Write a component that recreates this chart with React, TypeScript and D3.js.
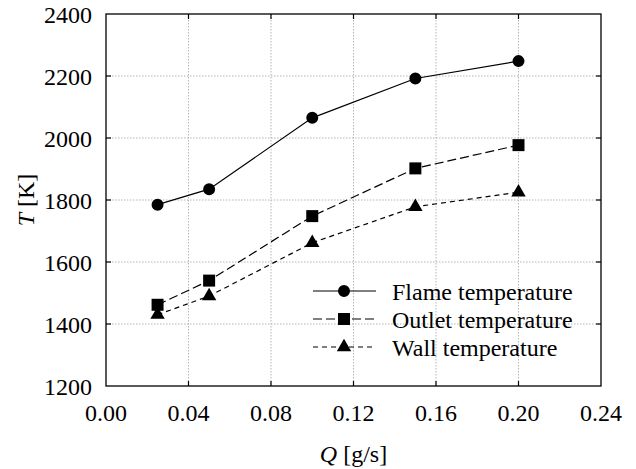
import React from 'react';
import * as d3 from 'd3';

// data
const flowRates = [0.025, 0.05, 0.1, 0.15, 0.2];
const flameTemp = [1785, 1835, 2065, 2192, 2248];
const outletTemp = [1462, 1540, 1748, 1902, 1977];
const wallTemp = [1430, 1490, 1662, 1778, 1825];

const xTicks = [0, 0.04, 0.08, 0.12, 0.16, 0.2, 0.24];
const yTicks = [1200, 1400, 1600, 1800, 2000, 2200, 2400];

const seriesNames = ['Flame temperature', 'Outlet temperature', 'Wall temperature'];

const W = 636, H = 469;
const margin = { top: 14, right: 35, bottom: 83, left: 106 };
const width = W - margin.left - margin.right;
const height = H - margin.top - margin.bottom;
const FONT = 'Times New Roman';
const FS = 24;

const App = () => {
  const x = d3.scaleLinear().domain([0, 0.24]).range([0, width]);
  const y = d3.scaleLinear().domain([1200, 2400]).range([height, 0]);

  const allSeries = [flameTemp, outletTemp, wallTemp];
  const dashes = [undefined, '9,4', '5,4'];
  const symbols = [d3.symbolCircle, d3.symbolSquare, d3.symbolTriangle];
  const sizes = [113, 144, 90];
  const line = d3.line<number>()
    .x((_, i) => x(flowRates[i]))
    .y(d => y(d));

  const innerX = xTicks.slice(1, -1);
  const innerY = yTicks.slice(1, -1);
  const tl = 5;

  // legend placement (pixels in plot coords)
  const lx0 = 313 - margin.left, lx1 = 376 - margin.left, lm = 344 - margin.left;
  const ly = [291, 319, 347].map(v => v - margin.top);

  return (
    <svg width={W} height={H}
      style={{ position: 'absolute', left: 0, top: 0, background: '#fff' }}>
      <g transform={`translate(${margin.left},${margin.top})`}>
        {/* grid */}
        {innerX.map(t => (
          <line key={'vg' + t} x1={x(t)} x2={x(t)} y1={0} y2={height}
            stroke="#b5b5b5" strokeWidth={1} strokeDasharray="1.5,1.5" />
        ))}
        {innerY.map(t => (
          <line key={'hg' + t} x1={0} x2={width} y1={y(t)} y2={y(t)}
            stroke="#b5b5b5" strokeWidth={1} strokeDasharray="1.5,1.5" />
        ))}

        {/* frame + inward ticks */}
        <rect width={width} height={height} fill="none" stroke="#000" strokeWidth={1.3} />
        {innerX.map(t => (
          <g key={'xt' + t} stroke="#000" strokeWidth={1.2}>
            <line x1={x(t)} x2={x(t)} y1={height} y2={height - tl} />
            <line x1={x(t)} x2={x(t)} y1={0} y2={tl} />
          </g>
        ))}
        {innerY.map(t => (
          <g key={'yt' + t} stroke="#000" strokeWidth={1.2}>
            <line x1={0} x2={tl} y1={y(t)} y2={y(t)} />
            <line x1={width} x2={width - tl} y1={y(t)} y2={y(t)} />
          </g>
        ))}

        {/* series */}
        {allSeries.map((vals, si) => (
          <g key={'s' + si}>
            <path d={line(vals) || ''} fill="none" stroke="#000" strokeWidth={1.2}
              strokeDasharray={dashes[si]} />
            {vals.map((v, i) => (
              <path key={i} transform={`translate(${x(flowRates[i])},${y(v)})`}
                d={d3.symbol().type(symbols[si]).size(sizes[si])() || ''} fill="#000" />
            ))}
          </g>
        ))}

        {/* legend marks */}
        {seriesNames.map((name, si) => (
          <g key={'lg' + si}>
            <line x1={lx0} x2={lx1} y1={ly[si]} y2={ly[si]} stroke="#000" strokeWidth={1.2}
              strokeDasharray={dashes[si]} />
            <path transform={`translate(${lm},${ly[si]})`}
              d={d3.symbol().type(symbols[si]).size(sizes[si])() || ''} fill="#000" />
          </g>
        ))}
      </g>

      {/* texts */}
      {xTicks.map(t => (
        <text key={'xl' + t} x={margin.left + x(t)} y={margin.top + height + 35} textAnchor="middle"
          fontFamily={FONT} fontSize={FS}>{d3.format('.2f')(t)}</text>
      ))}
      {yTicks.map(t => (
        <text key={'yl' + t} x={margin.left - 14} y={margin.top + y(t) + 8.5} textAnchor="end"
          fontFamily={FONT} fontSize={FS}>{t}</text>
      ))}
      {seriesNames.map((name, si) => (
        <text key={'lt' + si} x={392} y={margin.top + ly[si] + 9}
          fontFamily={FONT} fontSize={FS}>{name}</text>
      ))}
      <text x={margin.left + width / 2} y={462} textAnchor="middle" fontFamily={FONT} fontSize={FS}>
        <tspan fontStyle="italic">Q</tspan> [g/s]
      </text>
      <text transform={`translate(34,${margin.top + height / 2}) rotate(-90)`} textAnchor="middle"
        fontFamily={FONT} fontSize={FS}>
        <tspan fontStyle="italic">T</tspan> [K]
      </text>
    </svg>
  );
};

export default App;
